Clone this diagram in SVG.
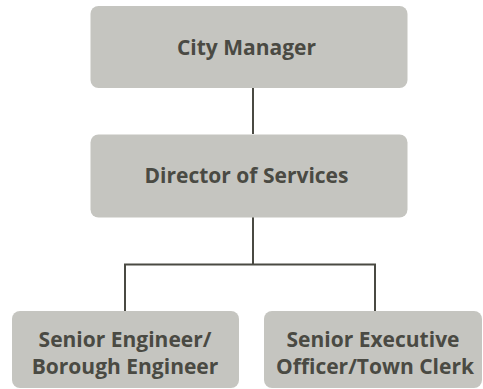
<svg xmlns="http://www.w3.org/2000/svg" width="483" height="389" viewBox="0 0 483 389">
<style>
.box{fill:#c5c5c0}
.lbl{font-family:"Open Sans","Noto Sans","Liberation Sans",sans-serif;font-weight:bold;font-size:21px;fill:#4a4a43;text-anchor:middle}
.conn{fill:none;stroke:#4a4a43;stroke-width:2}
</style>
<g id="connectors">
<path class="conn" d="M253,88 V134"/>
<path class="conn" d="M253,217 V264.5 M125,311 V264.5 H375 V311"/>
</g>
<g id="city-manager">
<rect class="box" x="90.5" y="6" width="317" height="82" rx="8"/>
<text class="lbl" x="246.5" y="55">City Manager</text>
</g>
<g id="director-of-services">
<rect class="box" x="90.5" y="134.5" width="317" height="83" rx="8"/>
<text class="lbl" x="246.5" y="183">Director of Services</text>
</g>
<g id="senior-engineer">
<rect class="box" x="12" y="311" width="227" height="77" rx="8"/>
<text class="lbl" x="125" y="346.5">Senior Engineer/</text>
<text class="lbl" x="125" y="373.5">Borough Engineer</text>
</g>
<g id="senior-executive-officer">
<rect class="box" x="264" y="311" width="218" height="77" rx="8"/>
<text class="lbl" x="373" y="346.5">Senior Executive</text>
<text class="lbl" x="375" y="373.5">Officer/Town Clerk</text>
</g>
</svg>
